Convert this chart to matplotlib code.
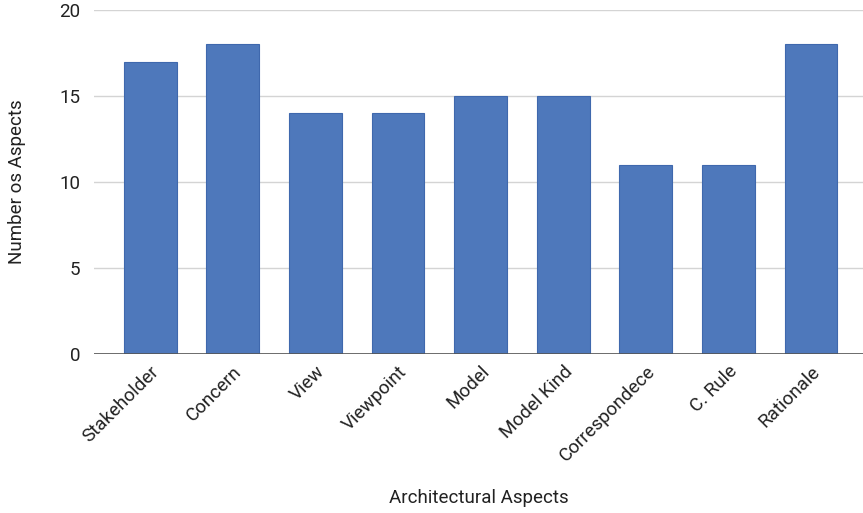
import matplotlib.pyplot as plt

plt.rcParams['font.family'] = ['Roboto', 'DejaVu Sans']

categories = ['Stakeholder', 'Concern', 'View', 'Viewpoint', 'Model',
              'Model Kind', 'Correspondece', 'C. Rule', 'Rationale']
counts = [17, 18, 14, 14, 15, 15, 11, 11, 18]

fig = plt.figure(figsize=(8.63, 5.13), dpi=100)
ax = fig.add_axes([0.109, 0.31, 0.891, 0.6705])

x = range(len(categories))
ax.bar(x, counts, width=0.64, color='#4e78bb', edgecolor='#3f68ad',
       linewidth=0.8, zorder=3)

ax.set_ylim(0, 20)
ax.set_xlim(-0.68, 8.63)
ax.set_yticks([0, 5, 10, 15, 20])
ax.grid(axis='y', color='#d4d4d4', linewidth=1, zorder=0)
ax.axhline(0, color='#555555', linewidth=1.2, zorder=4)

for s in ax.spines.values():
    s.set_visible(False)
ax.tick_params(axis='both', length=0, colors='#222222')
ax.tick_params(axis='y', pad=10, labelsize=13.5)
ax.tick_params(axis='x', pad=6, labelsize=13.5)

ax.set_xticks(list(x))
ax.set_xticklabels(categories, rotation=45, ha='right', rotation_mode='anchor')

ax.set_xlabel('Architectural Aspects', fontsize=13.5, labelpad=17, color='#222222')
ax.set_ylabel('Number os Aspects', fontsize=13.5, labelpad=24, color='#222222')

fig.savefig('out.png', dpi=100)
